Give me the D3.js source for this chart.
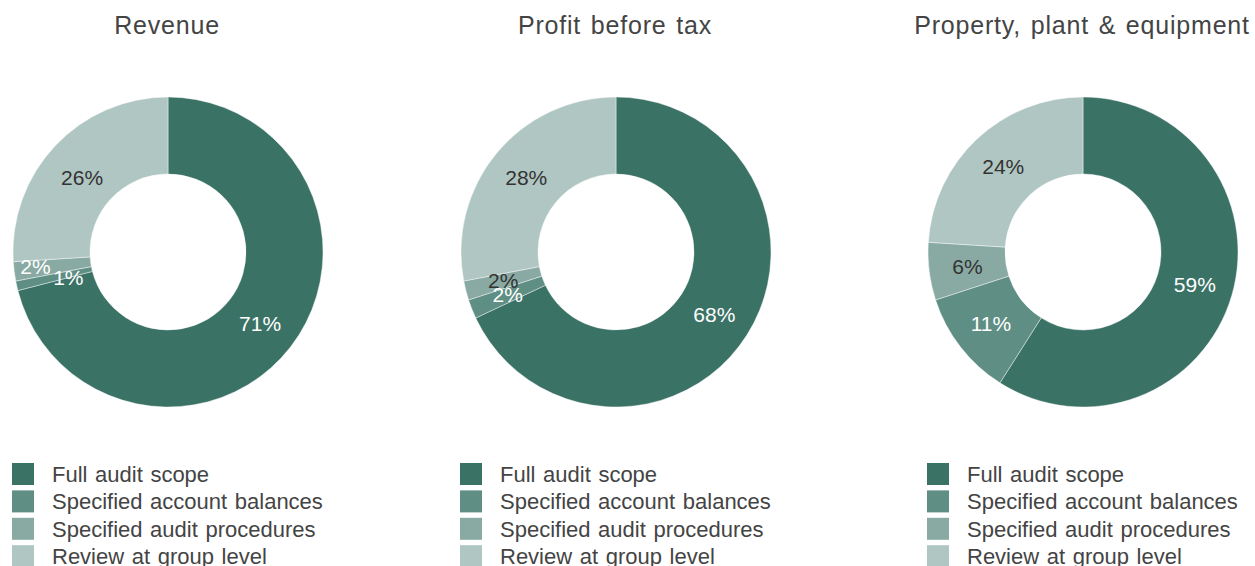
<!DOCTYPE html>
<html>
<head>
<meta charset="utf-8">
<script src="https://cdn.jsdelivr.net/npm/d3@7"></script>
<style>
  body { margin: 0; background: #fff; }
  text { font-family: "Liberation Sans", Arial, sans-serif; }
</style>
</head>
<body>
<div id="viz"></div>
<script>
(function() {

    var width = 1255;
    var height = 566;

    // chart data
    var titles = ["Revenue", "Profit before tax", "Property, plant & equipment"];
    var categories = ["Full audit scope", "Specified account balances", "Specified audit procedures", "Review at group level"];
    var revenue = [71, 1, 2, 26];
    var profitBeforeTax = [68, 2, 2, 28];
    var ppe = [59, 11, 6, 24];
    var seriesList = [revenue, profitBeforeTax, ppe];

    // layout
    var centersX = [168, 616, 1083];
    var centerY = 252;
    var outerR = 155;
    var innerR = 78;
    var colors = ["#3b7266", "#5f8e84", "#89aaa3", "#b0c6c2"];
    var labelColors = ["#fff", "#fff", "#333", "#333"];
    // small tweaks for the crowded revenue labels
    var labelShift = { "0-1": 14, "0-2": -17, "0-3": -1 };
    var labelShiftY = { "0-3": 5 };
    var labelColorFix = { "0-2": "#fff" };

    var svg = d3.select("#viz")
        .append("svg")
        .attr("width", width)
        .attr("height", height);

    var pie = d3.pie().sort(null).value(function(d) { return d; });
    var arc = d3.arc().innerRadius(innerR).outerRadius(outerR);
    var color = d3.scaleOrdinal().domain(d3.range(categories.length)).range(colors);

    seriesList.forEach(function(values, ci) {
        var cx = centersX[ci];
        var g = svg.append("g").attr("transform", "translate(" + cx + "," + centerY + ")");

        svg.append("text")
            .attr("x", cx - 1)
            .attr("y", 34)
            .attr("text-anchor", "middle")
            .attr("font-size", "25px")
            .attr("letter-spacing", "0.8px")
            .attr("word-spacing", "2px")
            .attr("fill", "#444")
            .text(titles[ci]);

        var arcs = pie(values);

        g.selectAll("path")
            .data(arcs)
            .enter().append("path")
            .attr("d", arc)
            .attr("fill", function(d, i) { return color(i); })
            .attr("stroke", "rgba(255,255,255,0.6)")
            .attr("stroke-width", 0.7);

        g.selectAll(".lbl")
            .data(arcs)
            .enter().append("text")
            .attr("class", "lbl")
            .attr("transform", function(d, i) {
                var c = arc.centroid(d);
                var dx = labelShift[ci + "-" + i] || 0;
                var dy = labelShiftY[ci + "-" + i] || 0;
                return "translate(" + (c[0] + dx) + "," + (c[1] + dy) + ")";
            })
            .attr("dy", "0.35em")
            .attr("text-anchor", "middle")
            .attr("font-size", "21px")
            .attr("fill", function(d, i) { return labelColorFix[ci + "-" + i] || labelColors[i]; })
            .text(function(d) { return d.data + "%"; });

        // legend
        var legend = svg.append("g")
            .attr("transform", "translate(" + (cx - 156) + ",463)");

        var rows = legend.selectAll(".row")
            .data(categories)
            .enter().append("g")
            .attr("class", "row")
            .attr("transform", function(d, i) { return "translate(0," + (i * 27.4) + ")"; });

        rows.append("rect")
            .attr("width", 22)
            .attr("height", 22)
            .attr("fill", function(d, i) { return color(i); });

        rows.append("text")
            .attr("x", 40)
            .attr("y", 11)
            .attr("dy", "0.36em")
            .attr("font-size", "22px")
            .attr("word-spacing", "1.5px")
            .attr("fill", "#444")
            .text(function(d) { return d; });
    });

})();
</script>
</body>
</html>
